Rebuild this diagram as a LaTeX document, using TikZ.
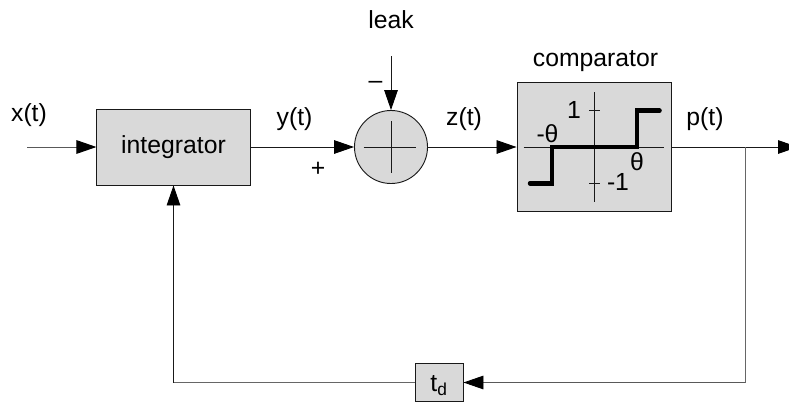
\documentclass[tikz,border=0pt]{standalone}
\usepackage{fontspec}
\setmainfont{Liberation Sans}
\usetikzlibrary{positioning, arrows.meta}
\definecolor{blockgray}{RGB}{217,217,217}

\begin{document}
\begin{tikzpicture}[
  x=0.025cm, y=-0.025cm,
  block/.style={rectangle, draw=black!90, fill=blockgray, line width=0.65pt,
    inner sep=0pt, align=center, font=\fontsize{17.6}{20}\selectfont},
  sumnd/.style={circle, draw=black!90, fill=blockgray, line width=0.65pt,
    minimum size=1.825cm, inner sep=0pt},
  lbl/.style={anchor=base, inner sep=0pt, font=\fontsize{17.6}{20}\selectfont},
  arr/.style={-{Triangle[length=0.5cm, width=0.34cm, fill=black, color=black]}, line width=0.65pt, black!90},
  plain/.style={line width=0.65pt, black!90},
  grayline/.style={line width=0.65pt, black!60},
  axis/.style={line width=0.65pt, black!90},
  curve/.style={line width=3.2pt, line cap=round, line join=miter, black},
]
  \useasboundingbox (0,0) rectangle (789,403);
  \clip (0,0) rectangle (789,403);

  \node[block, minimum width=3.83cm, minimum height=1.9cm] (integ) at (173.5,147) {integrator};
  \node[sumnd] (sum) at (391,147) {};
  \node[block, minimum width=3.85cm, minimum height=3.21cm] (comp) at (594,147) {};
  \node[block, minimum width=1.2cm, minimum height=0.96cm] (delay) at (439,382.5) {};

  \node[lbl] (delaytxt) at (439,391.5) {t\textsubscript{d}};

  % free ends
  \coordinate (xin) at (27,147);
  \coordinate (leakin) at (391,56);
  \coordinate (pout) at (798,147);
  \coordinate (tap) at (745,147);
  \coordinate (tapdown) at (745,382.5);
  \coordinate (fbcorner) at (173.5,382.5);

  % forward path
  \draw[arr, black!65] (xin) -- (integ.west);
  \draw[arr] (integ.east) -- (sum.west);
  \draw[arr] (sum.east) -- (comp.west);
  \draw[arr] (comp.east) -- (pout);
  \draw[arr] (leakin) -- (sum.north);

  % feedback
  \draw[grayline] (tap) -- (tapdown);
  \draw[arr, black!65] (tapdown) -- (delay.east);
  \draw[grayline] (delay.west) -- (fbcorner);
  \draw[arr] (fbcorner) -- (integ.south);

  % cross in the sum
  \draw[plain] (363.5,147) -- (416,147);
  \draw[plain] (391,121) -- (391,173);

  % comparator curve
  \draw[axis] (523.5,147) -- (664,147);
  \draw[axis] (594.5,92) -- (594.5,201.7);
  \draw[axis] (589,110.7) -- (600,110.7);
  \draw[axis] (589,183.3) -- (600,183.3);
  \draw[curve] (530,183.3) -- (552,183.3) -- (552,147) -- (637,147) -- (637,110.7) -- (659.5,110.7);

  % labels
  \node[lbl] (xlbl) at (29,121) {x(t)};
  \node[lbl] (ylbl) at (294.5,125) {y(t)};
  \node[lbl] (zlbl) at (464,125) {z(t)};
  \node[lbl] (plbl) at (705,125.5) {p(t)};
  \node[lbl] (leaklbl) at (391,28) {leak};
  \node[lbl] (complbl) at (595.5,66) {comparator};
  \node[lbl] (pluslbl) at (318,176) {+};
  \node[lbl] (minuslbl) at (375.5,88) {–};
  \node[lbl] (onelbl) at (574,118) {1};
  \node[lbl] (mthlbl) at (547.5,142.7) {-θ};
  \node[lbl] (thlbl) at (637,170.7) {θ};
  \node[lbl] (monelbl) at (618,190) {-1};
\end{tikzpicture}
\end{document}
